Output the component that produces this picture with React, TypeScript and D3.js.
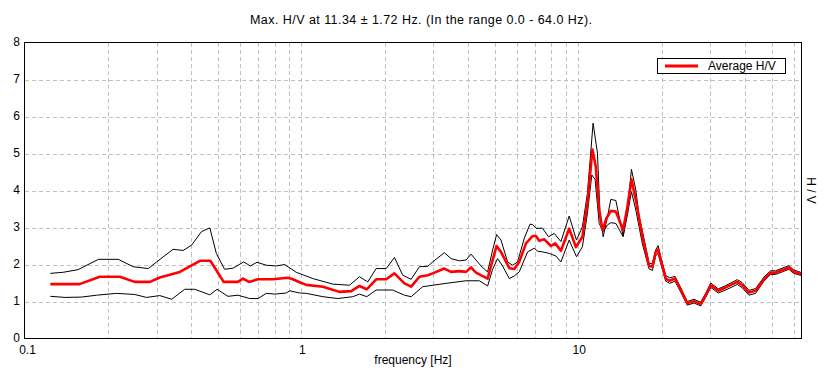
import React from "react";
import * as d3 from "d3";

const title = "Max. H/V at 11.34 ± 1.72 Hz. (In the range 0.0 - 64.0 Hz).";
const xLabel = "frequency [Hz]";
const yLabel = "H / V";
const legendLabel = "Average H/V";

const xTickLabels = [0.1, 1, 10];
const xGridValues = [0.2, 0.3, 0.4, 0.5, 0.6, 0.7, 0.8, 0.9, 1, 2, 3, 4, 5, 6, 7, 8, 9, 10, 20, 30, 40, 50, 60];
const yTicks = [0, 1, 2, 3, 4, 5, 6, 7, 8];

const upperFreq = [0.124,0.138,0.156,0.185,0.218,0.247,0.280,0.300,0.344,0.374,0.401,0.436,0.467,0.493,0.528,0.566,0.619,0.654,0.691,0.747,0.812,0.870,0.958,1.100,1.299,1.492,1.621,1.736,1.863,2.024,2.168,2.323,2.491,2.669,2.859,2.980,3.283,3.472,3.720,3.932,4.099,4.272,4.453,4.705,4.905,5.070,5.259,5.555,5.790,6.035,6.384,6.692,6.838,7.033,7.430,7.808,8.186,8.655,9.273,9.851,10.35,10.79,11.31,11.73,11.96,12.30,12.75,13.11,13.67,14.52,15.05,15.56,16.14,16.59,17.05,18.02,18.52,19.05,19.42,19.86,20.70,21.39,22.36,23.45,24.76,26.18,27.68,28.85,30.08,32.04,34.07,37.51,39.10,41.33,43.70,46.82,49.49,51.60,54.50,57.63,60.06,64.0];
const upperHV = [1.76,1.79,1.86,2.14,2.14,1.94,1.89,2.07,2.41,2.38,2.52,2.89,2.99,2.30,1.87,1.90,2.07,1.96,2.06,1.98,1.96,2.00,1.79,1.62,1.47,1.44,1.67,1.53,1.89,1.89,2.19,1.71,1.60,1.94,1.95,2.07,2.32,2.16,2.10,2.12,2.28,2.12,1.96,1.80,2.39,2.81,2.66,2.07,1.98,2.07,2.71,3.09,3.08,2.98,2.98,2.75,2.84,2.62,3.31,2.66,3.02,3.92,5.82,5.01,3.47,2.75,3.29,3.76,3.73,2.77,3.47,4.57,4.01,3.29,2.90,2.03,2.02,2.40,2.51,2.20,1.70,1.64,1.68,1.37,1.00,1.06,0.98,1.22,1.50,1.34,1.43,1.59,1.51,1.30,1.35,1.66,1.83,1.83,1.90,1.97,1.85,1.78];

const meanFreq = [0.124,0.158,0.187,0.221,0.250,0.284,0.308,0.364,0.430,0.469,0.524,0.590,0.615,0.647,0.697,0.789,0.894,0.932,0.985,1.042,1.196,1.373,1.514,1.621,1.722,1.863,2.024,2.168,2.356,2.491,2.669,2.859,2.980,3.283,3.472,3.720,3.932,4.099,4.272,4.705,4.905,5.070,5.259,5.635,5.872,6.120,6.474,6.838,7.033,7.228,7.536,7.965,8.254,8.655,9.273,9.802,10.35,10.79,11.25,11.57,11.90,12.23,12.64,13.11,13.67,14.52,15.05,15.56,16.14,17.05,18.02,18.52,19.05,19.42,19.86,20.70,21.39,22.36,23.45,24.76,26.18,27.68,28.85,30.08,32.04,34.07,37.51,39.10,41.33,43.70,46.82,49.49,51.60,54.50,57.63,60.06,64.0];
const meanHV = [1.47,1.47,1.67,1.67,1.53,1.53,1.65,1.80,2.10,2.10,1.53,1.53,1.62,1.53,1.60,1.60,1.64,1.60,1.52,1.45,1.40,1.26,1.28,1.42,1.33,1.60,1.60,1.76,1.49,1.40,1.67,1.71,1.76,1.89,1.80,1.82,1.80,1.92,1.78,1.62,2.12,2.50,2.34,1.90,1.88,2.07,2.57,2.77,2.77,2.64,2.68,2.50,2.57,2.37,2.97,2.47,2.75,3.65,5.11,4.64,3.47,2.93,3.25,3.45,3.43,2.93,3.56,4.30,3.74,2.75,1.96,1.94,2.34,2.41,2.12,1.62,1.56,1.62,1.31,0.95,1.01,0.93,1.17,1.44,1.29,1.38,1.53,1.44,1.24,1.29,1.60,1.78,1.78,1.85,1.92,1.80,1.74];

const lowerFreq = [0.124,0.140,0.161,0.182,0.215,0.250,0.276,0.308,0.340,0.379,0.412,0.467,0.496,0.543,0.590,0.651,0.697,0.747,0.801,0.882,0.907,0.985,1.042,1.196,1.354,1.533,1.621,1.722,1.863,2.138,2.356,2.491,2.743,3.330,3.932,4.391,4.705,4.905,5.112,5.329,5.635,5.872,6.120,6.560,6.934,7.127,7.430,7.854,8.302,8.655,9.273,9.851,10.35,10.79,11.19,11.50,11.90,12.30,12.75,13.11,13.67,14.52,15.05,15.56,16.14,17.05,18.02,18.52,19.05,19.42,19.86,20.70,21.39,22.36,23.45,24.76,26.18,27.68,28.85,30.08,32.04,34.07,37.51,39.10,41.33,43.70,46.82,49.49,51.60,54.50,57.63,60.06,64.0];
const lowerHV = [1.14,1.11,1.12,1.17,1.22,1.19,1.11,1.16,1.06,1.33,1.33,1.18,1.33,1.14,1.17,1.08,1.08,1.22,1.20,1.23,1.29,1.23,1.22,1.13,1.08,1.13,1.20,1.13,1.31,1.31,1.17,1.13,1.40,1.49,1.56,1.56,1.42,1.87,2.16,1.96,1.62,1.69,1.80,2.34,2.44,2.36,2.34,2.30,2.23,2.07,2.66,2.21,2.48,3.38,4.42,4.30,3.11,2.89,3.07,3.13,3.11,2.75,3.34,3.97,3.47,2.55,1.88,1.84,2.24,2.30,2.02,1.55,1.49,1.55,1.25,0.90,0.96,0.88,1.11,1.38,1.23,1.31,1.46,1.37,1.17,1.22,1.55,1.73,1.73,1.80,1.87,1.76,1.70];

const W = 826;
const H = 381;
const L = 24.5, R = 801.5, T = 42.5, B = 338.5;
const FONT = "'Liberation Sans', Arial, sans-serif";

function zip(f: number[], v: number[]): [number, number][] {
  const n = Math.min(f.length, v.length);
  const out: [number, number][] = [];
  for (let i = 0; i < n; i++) out.push([f[i], v[i]]);
  return out;
}

export default function App() {
  const x = d3.scaleLog().domain([0.1, 64]).range([L, R]);
  const y = d3.scaleLinear().domain([0, 8]).range([B, T]);
  const line = d3.line<[number, number]>().x((d) => x(d[0])).y((d) => y(d[1]));

  const upper = line(zip(upperFreq, upperHV)) || "";
  const lower = line(zip(lowerFreq, lowerHV)) || "";
  const mean = line(zip(meanFreq, meanHV)) || "";

  const gridColor = "#c0c0c0";

  return (
    <svg
      width={W}
      height={H}
      style={{ position: "absolute", left: 0, top: 0, background: "#fff" }}
      fontFamily={FONT}
    >
      <rect x={0} y={0} width={W} height={H} fill="#fff" />
      <defs>
        <clipPath id="plotClip">
          <rect x={L} y={T} width={R - L} height={B - T} />
        </clipPath>
      </defs>
      <g shapeRendering="crispEdges" stroke={gridColor} strokeWidth={1} strokeDasharray="4,3">
        {xGridValues.map((v) => {
          const px = Math.round(x(v)) + 0.5;
          return <line key={"gx" + v} x1={px} x2={px} y1={T} y2={B} />;
        })}
        {yTicks.filter((v) => v > 0 && v < 8).map((v) => {
          const py = Math.round(y(v)) + 0.5;
          return <line key={"gy" + v} x1={L} x2={R} y1={py} y2={py} />;
        })}
      </g>
      <g clipPath="url(#plotClip)" fill="none">
        <path d={upper} stroke="#000" strokeWidth={1} />
        <path d={lower} stroke="#000" strokeWidth={1} />
        <path d={mean} stroke="#ff0000" strokeWidth={2.6} strokeLinejoin="round" />
      </g>
      <rect x={L} y={T} width={R - L} height={B - T} fill="none" stroke="#000" strokeWidth={1} shapeRendering="crispEdges" />
      <g fontSize={12} fill="#000" textAnchor="end">
        {yTicks.map((v) => (
          <text key={"yt" + v} x={20} y={y(v) + 3.5}>{v}</text>
        ))}
      </g>
      <g fontSize={12} fill="#000" textAnchor="middle">
        {xTickLabels.map((v, i) => (
          <text key={"xt" + v} x={x(v) + (i === 0 ? 3 : 1)} y={354}>{String(v)}</text>
        ))}
      </g>
      <text x={413} y={364} fontSize={12} textAnchor="middle" fill="#000">{xLabel}</text>
      <text x={421} y={24} fontSize={12.5} textAnchor="middle" fill="#000" textLength={342} lengthAdjust="spacing">{title}</text>
      <text
        transform={`translate(807, ${(T + B) / 2}) rotate(90)`}
        fontSize={12}
        textAnchor="middle"
        fill="#000"
      >
        {yLabel}
      </text>
      <g>
        <rect x={657.5} y={58.5} width={128} height={15} fill="#fff" stroke="#000" strokeWidth={1} shapeRendering="crispEdges" />
        <line x1={665} x2={698} y1={66} y2={66} stroke="#ff0000" strokeWidth={3} />
        <text x={708} y={70} fontSize={12} fill="#000">{legendLabel}</text>
      </g>
    </svg>
  );
}
